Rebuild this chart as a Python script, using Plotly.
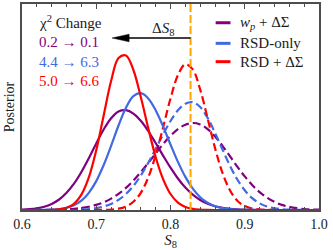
import plotly.graph_objects as go

# ---------------- data ----------------
s8 = [0.60, 0.61, 0.62, 0.63, 0.64, 0.65, 0.66, 0.67, 0.68, 0.69,
      0.70, 0.71, 0.72, 0.73, 0.74, 0.75, 0.76, 0.77, 0.78, 0.79,
      0.80, 0.81, 0.82, 0.83, 0.84, 0.85, 0.86, 0.87, 0.88, 0.89,
      0.90, 0.91, 0.92, 0.93, 0.94, 0.95, 0.96, 0.97, 0.98, 0.99, 1.00]

# solid curves
wp_ds_solid = [0.38, 0.82, 1.7, 3.3, 6.1, 10.5, 17.2, 26.3, 38, 51.8,
               66.6, 80.5, 91.8, 98.6, 99.8, 96.4, 89.2, 79, 67, 54.4,
               42.3, 31.5, 22.4, 15.3, 10, 6.3, 3.8, 2.2, 1.2, 0.6,
               0.3, 0.15, 0.07, 0, 0, 0, 0, 0, 0, 0, 0]
rsd_solid = [0, 0, 0.04, 0.13, 0.36, 0.92, 2.2, 4.7, 9.3, 17.2,
             28.9, 45, 64.2, 84.5, 102.3, 113.9, 116.8, 111.6, 99.8, 83.6,
             65.5, 48.1, 33.1, 21.3, 12.8, 7.2, 3.8, 1.9, 0.88, 0.38,
             0.15, 0.05, 0, 0, 0, 0, 0, 0, 0, 0, 0]
rsd_ds_solid = [0, 0, 0, 0, 0.2, 0.65, 2.2, 6.2, 15.4, 32.6,
                59.8, 94.6, 129, 152, 154.6, 140, 113, 82, 53, 30.9,
                16, 7.4, 3.1, 1.2, 0.4, 0.1, 0, 0, 0, 0,
                0, 0, 0, 0, 0, 0, 0, 0, 0, 0, 0]

# dashed curves
wp_ds_dashed = [0, 0, 0.05, 0.1, 0.2, 0.39, 0.69, 1.2, 2.0, 3.25,
                5.1, 7.7, 11.4, 16.1, 22.1, 29.4, 37.8, 47, 56.6, 65.9,
                74.2, 80.9, 85.3, 87, 85.6, 80.9, 73.5, 64.2, 53.8, 43.4,
                33.6, 25, 17.8, 12.3, 8.1, 5.1, 3.1, 1.8, 1.0, 0.55, 0.29]
rsd_dashed = [0, 0, 0, 0, 0, 0, 0, 0, 0.5, 1.0,
              1.9, 3.5, 6.1, 10.1, 16, 24, 34.5, 47.1, 61.1, 75.6,
              89, 99.7, 106.3, 107.9, 103, 92.1, 77.1, 60.5, 44.4, 30.5,
              19.7, 11.8, 6.7, 3.5, 1.75, 0.8, 0.36, 0.15, 0.05, 0, 0]
rsd_ds_dashed = [0, 0, 0, 0, 0, 0, 0, 0, 0, 0,
                 0.04, 0.14, 0.45, 1.3, 3.5, 8.2, 17.2, 32.5, 54.8, 82.6,
                 111.5, 134.8, 145.7, 140.6, 120.4, 91.6, 61.9, 37.1, 19.8, 9.3,
                 3.9, 1.5, 0.5, 0.15, 0, 0, 0, 0, 0, 0, 0]

s8_reference = 0.827
arrow_tip_s8 = 0.7214

series_names = ["<i>w</i><sub><i>p</i></sub> + ΔΣ", "RSD-only", "RSD + ΔΣ"]
chi2_labels = ["0.2 → 0.1", "4.4 → 6.3", "5.0 → 6.6"]
colors = ["purple", "royalblue", "red"]

x_ticks = [0.6, 0.7, 0.8, 0.9, 1.0]
x_tick_text = ["0.6", "0.7", "0.8", "0.9", "1.0"]

# ---------------- figure ----------------
SERIF = "Liberation Serif"
AX = "#4d4d4d"
TXT = "#1a1a1a"

fig = go.Figure()

dashed = [wp_ds_dashed, rsd_dashed, rsd_ds_dashed]
solid = [wp_ds_solid, rsd_solid, rsd_ds_solid]

for vals, name, col in zip(dashed, series_names, colors):
    fig.add_trace(go.Scatter(x=s8, y=vals, mode="lines", name=name + " (dashed)",
                             line=dict(color=col, width=2.2, dash="8px,4px", shape="spline"),
                             showlegend=False, hoverinfo="skip"))
for vals, name, col in zip(solid, series_names, colors):
    fig.add_trace(go.Scatter(x=s8, y=vals, mode="lines", name=name,
                             line=dict(color=col, width=2.2, shape="spline"),
                             showlegend=False, hoverinfo="skip"))

shapes = []
annotations = []

# reference S8 line
shapes.append(dict(type="line", xref="x", yref="paper", x0=s8_reference, x1=s8_reference,
                   y0=0, y1=1, line=dict(color="orange", width=2, dash="8px,3px"), layer="above"))

# Delta S8 arrow
arrow_y = 0.835
shapes.append(dict(type="line", xref="x", yref="paper", x0=s8_reference, x1=arrow_tip_s8 + 0.02,
                   y0=arrow_y, y1=arrow_y, line=dict(color="black", width=1.5)))
shapes.append(dict(type="path", xref="x", yref="paper", xsizemode="pixel", ysizemode="pixel",
                   xanchor=arrow_tip_s8, yanchor=arrow_y,
                   path="M0,0 L17,3.8 L17,-3.8 Z", fillcolor="black", line=dict(color="black", width=0.5)))
annotations.append(dict(xref="x", yref="paper", x=0.79, y=0.879, text="Δ<i>S</i><sub>8</sub>",
                        showarrow=False, font=dict(family=SERIF, size=15, color=TXT),
                        xanchor="center", yanchor="middle"))

# chi2 change block
annotations.append(dict(xref="paper", yref="paper", x=0.05, y=0.913, text="χ<sup>2</sup> Change",
                        showarrow=False, font=dict(family=SERIF, size=15, color=TXT),
                        xanchor="left", yanchor="middle"))
for i, (lab, col) in enumerate(zip(chi2_labels, colors)):
    annotations.append(dict(xref="paper", yref="paper", x=0.05, y=[0.816, 0.718, 0.626][i], text=lab,
                            showarrow=False, font=dict(family=SERIF, size=15, color=col),
                            xanchor="left", yanchor="middle"))

# manual legend
for i, (name, col) in enumerate(zip(series_names, colors)):
    yy = [0.909, 0.809, 0.720][i]
    shapes.append(dict(type="line", xref="paper", yref="paper", x0=0.652, x1=0.702, y0=yy, y1=yy,
                       line=dict(color=col, width=3)))
    annotations.append(dict(xref="paper", yref="paper", x=0.726, y=yy, text=name,
                            showarrow=False, font=dict(family=SERIF, size=15, color=TXT),
                            xanchor="left", yanchor="middle"))

fig.update_layout(
    width=333, height=250,
    margin=dict(l=22, r=14, t=4, b=40),
    paper_bgcolor="white", plot_bgcolor="white",
    font=dict(family=SERIF, size=14, color=TXT),
    shapes=shapes, annotations=annotations,
    showlegend=False,
)
fig.update_xaxes(range=[0.6, 1.0], tickvals=x_ticks, ticktext=x_tick_text,
                 ticks="inside", ticklen=5, tickwidth=1.2, tickcolor=AX,
                 minor=dict(ticks="inside", ticklen=3, dtick=0.02, tickcolor=AX, tickwidth=1),
                 showline=True, linecolor=AX, linewidth=1.6, mirror="ticks",
                 showgrid=False, zeroline=False, automargin=False,
                 tickfont=dict(family=SERIF, size=14, color=TXT),
                 title=dict(text="<i>S</i><sub>8</sub>", font=dict(family=SERIF, size=15), standoff=2))
fig.update_yaxes(range=[0, 206], showticklabels=False, ticks="",
                 showline=True, linecolor=AX, linewidth=1.6, mirror=True,
                 showgrid=False, zeroline=False, automargin=False,
                 title=dict(text="Posterior", font=dict(family=SERIF, size=14), standoff=2))

fig.write_html("out.html", config={"displayModeBar": False},
               post_script="document.body.style.margin='0';document.body.style.padding='0';")
